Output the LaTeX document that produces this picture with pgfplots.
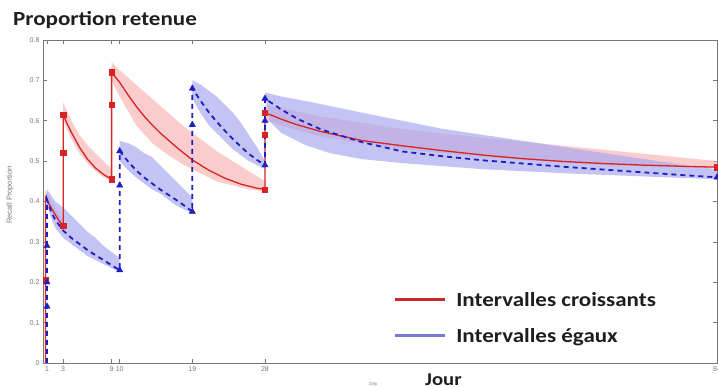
\documentclass[border=0pt]{standalone}
\usepackage{pgfplots}
\pgfplotsset{compat=1.18}
\usepackage{fontspec}
\setmainfont{Carlito}[FakeStretch=1.15]
\newfontfamily\tickfont{Liberation Sans}
\definecolor{redline}{RGB}{215,35,35}
\definecolor{blueline}{RGB}{30,30,195}
\definecolor{redband}{RGB}{248,170,170}
\definecolor{blueband}{RGB}{170,170,240}
\definecolor{legblue}{RGB}{120,120,215}
\definecolor{legred}{RGB}{200,40,40}
\definecolor{axgray}{RGB}{120,120,120}
\definecolor{txt}{RGB}{30,30,30}
\begin{document}
\begin{tikzpicture}
\useasboundingbox (-43pt,-24pt) rectangle (675pt,363pt);
\begin{axis}[
  scale only axis, width=674pt, height=323pt,
  at={(0pt,0pt)}, anchor=south west,
  xmin=0.5, xmax=84, ymin=0, ymax=0.8,
  xtick={1,3,9,10,19,28,84},
  xticklabels={1,3,9,10,19,28,84},
  ytick={0,0.1,0.2,0.3,0.4,0.5,0.6,0.7,0.8},
  yticklabels={0,0.1,0.2,0.3,0.4,0.5,0.6,0.7,0.8},
  tick align=inside, major tick length=4pt,
  axis line style={axgray, line width=0.8pt},
  tick style={axgray, line width=0.6pt},
  ticklabel style={font=\tickfont\fontsize{7}{7}\selectfont, text=axgray},
  /pgf/number format/assume math mode=true,
  xlabel={Day}, ylabel={Recall Proportion},
  xlabel style={font=\tickfont\fontsize{4.5}{4.5}\selectfont, text=axgray, at={(axis description cs:0.49,0)}, anchor=north, yshift=-16pt},
  ylabel style={font=\tickfont\fontsize{7.5}{7.5}\selectfont, text=axgray, at={(axis description cs:0,0.52)}, anchor=south, yshift=26pt},
  legend style={draw=none, fill=none, at={(axis description cs:0.5195,0.225)}, anchor=north west,
    font=\bfseries\fontsize{20}{20}\selectfont, text=txt, row sep=18pt, inner sep=0pt,
    nodes={inner sep=2pt, text depth=0pt},
    /tikz/every odd column/.append style={column sep=8pt}},
  legend cell align=left,
  legend image code/.code={\draw[#1] (0pt,0pt) -- (50pt,0pt);},
]
% red bands
\addplot[draw=none, fill=redband, fill opacity=0.6, forget plot] coordinates {
(0.8,0.43)(2,0.385)(3,0.35)(3,0.335)(2,0.36)(0.8,0.4)};
\addplot[draw=none, fill=redband, fill opacity=0.6, forget plot] coordinates {
(3,0.645)(4,0.6)(5,0.565)(6,0.54)(7,0.52)(8,0.5)(9,0.48)
(9,0.45)(8,0.46)(7,0.475)(6,0.495)(5,0.52)(4,0.555)(3,0.6)};
\addplot[draw=none, fill=redband, fill opacity=0.6, forget plot] coordinates {
(9,0.745)(10,0.725)(12,0.69)(14,0.655)(16,0.62)(18,0.585)(20,0.555)(22,0.525)(24,0.5)(26,0.475)(28,0.45)
(28,0.425)(26,0.43)(24,0.44)(22,0.45)(20,0.47)(18,0.49)(16,0.515)(14,0.545)(12,0.59)(10,0.66)(9,0.7)};
\addplot[draw=none, fill=redband, fill opacity=0.6, forget plot] coordinates {
(28,0.64)(35,0.61)(40,0.595)(45,0.58)(50,0.568)(55,0.558)(60,0.548)(65,0.538)(70,0.528)(75,0.518)(80,0.508)(84,0.5)
(84,0.483)(70,0.49)(55,0.51)(45,0.53)(35,0.56)(28,0.6)};
% blue bands
\addplot[draw=none, fill=blueband, fill opacity=0.7, forget plot] coordinates {
(1,0.43)(1.5,0.415)(2,0.4)(3,0.385)(4,0.365)(5,0.345)(6,0.325)(7,0.31)(8,0.29)(9,0.275)(10,0.26)
(10,0.225)(9,0.235)(8,0.245)(7,0.255)(6,0.265)(5,0.28)(4,0.295)(3,0.31)(2,0.335)(1.5,0.36)(1,0.39)};
\addplot[draw=none, fill=blueband, fill opacity=0.7, forget plot] coordinates {
(10,0.55)(11,0.545)(12,0.535)(13,0.52)(14,0.51)(15,0.49)(16,0.47)(17,0.45)(18,0.43)(19,0.41)
(19,0.37)(18,0.38)(17,0.39)(16,0.405)(15,0.42)(14,0.43)(13,0.445)(12,0.46)(11,0.478)(10,0.5)};
\addplot[draw=none, fill=blueband, fill opacity=0.7, forget plot] coordinates {
(19,0.7)(20,0.69)(21,0.675)(22,0.66)(23,0.64)(24,0.62)(25,0.595)(26,0.565)(27,0.535)(28,0.5)
(28,0.48)(27,0.49)(26,0.5)(25,0.515)(24,0.53)(23,0.55)(22,0.57)(21,0.59)(20,0.62)(19,0.655)};
\addplot[draw=none, fill=blueband, fill opacity=0.7, forget plot] coordinates {
(28,0.67)(30,0.66)(34,0.645)(40,0.62)(45,0.6)(50,0.58)(55,0.565)(60,0.55)(65,0.535)(70,0.52)(75,0.505)(80,0.49)(84,0.48)
(84,0.455)(75,0.462)(65,0.47)(55,0.48)(45,0.495)(40,0.505)(36,0.52)(33,0.54)(30,0.57)(28.5,0.6)};
% red curve
\addplot[redline, line width=1.3pt, forget plot] coordinates {
(0.8,0) (0.8,0.205) (0.8,0.41) (1.5,0.385) (2,0.368) (2.5,0.352) (3,0.34) (3,0.52) (3,0.615) (3.5,0.592) (4,0.572) (5,0.535) (6,0.505) (7,0.483) (8,0.467) (9,0.455) (9,0.64) (9,0.72) (10,0.695) (11,0.665) (12,0.637) (13,0.612) (14,0.59) (15,0.57) (17,0.535) (19,0.503) (21,0.478) (23,0.458) (25,0.443) (27,0.433) (28,0.43) (28,0.565) (28,0.62) (30,0.604) (32,0.59) (35,0.573) (40,0.551) (45,0.538) (50,0.526) (55,0.515) (60,0.506) (65,0.499) (70,0.494) (75,0.49) (80,0.487) (84,0.485)};
% blue curve
\addplot[blueline, line width=1.8pt, dash pattern=on 5pt off 4pt, forget plot] coordinates {
(1,0) (1,0.14) (1,0.2) (1,0.29) (1,0.405) (1.5,0.375) (2,0.355) (3,0.328) (4,0.31) (5,0.295) (6,0.28) (7,0.267) (8,0.255) (9,0.242) (10,0.23) (10,0.44) (10,0.525) (11,0.5) (12,0.478) (13,0.46) (14,0.445) (15,0.43) (16,0.417) (17,0.404) (18,0.39) (19,0.375) (19,0.59) (19,0.68) (20,0.65) (21,0.622) (22,0.598) (23,0.576) (24,0.555) (25,0.536) (26,0.518) (27,0.503) (28,0.49) (28,0.6) (28,0.655) (30,0.628) (32,0.605) (35,0.578) (40,0.547) (45,0.524) (50,0.512) (55,0.502) (60,0.494) (65,0.486) (70,0.479) (75,0.472) (80,0.465) (84,0.46)};
% markers
\addplot[only marks, mark=square*, mark size=2.6pt, color=redline, forget plot] coordinates {
(0.8,0.205)(3,0.34)(3,0.52)(3,0.615)(9,0.455)(9,0.64)(9,0.72)(28,0.43)(28,0.565)(28,0.62)(84,0.485)};
\addplot[only marks, mark=triangle*, mark size=3.6pt, color=blueline, forget plot] coordinates {
(1,0.14)(1,0.2)(1,0.29)(10,0.23)(10,0.44)(10,0.525)(19,0.375)(19,0.59)(19,0.68)(28,0.49)(28,0.6)(28,0.655)(84,0.46)};
\addlegendimage{legred, line width=3pt}
\addlegendentry{Intervalles croissants}
\addlegendimage{legblue, line width=2.2pt}
\addlegendentry{Intervalles égaux}
\end{axis}
\node[anchor=base west, inner sep=0pt, font=\bfseries\fontsize{20}{20}\selectfont, text=txt] at (-30pt,337pt) {Proportion retenue};
\node[anchor=base west, inner sep=0pt, font=\bfseries\fontsize{18}{18}\selectfont, text=txt] at (382pt,-23pt) {Jour};
\end{tikzpicture}
\end{document}
